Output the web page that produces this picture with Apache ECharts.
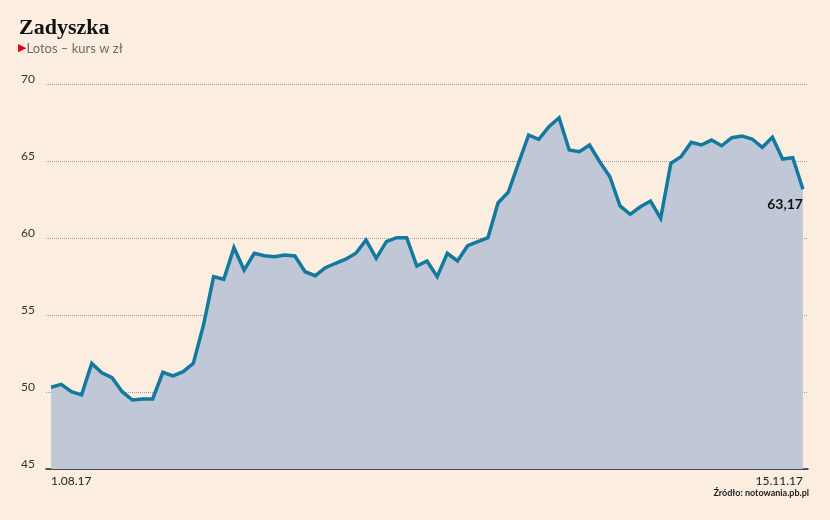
<!DOCTYPE html>
<html>
<head>
<meta charset="utf-8">
<script src="https://cdn.jsdelivr.net/npm/echarts@6/dist/echarts.min.js"></script>
<style>
html,body{margin:0;padding:0;background:#fbeee1;}
#c{width:830px;height:520px;}
</style>
</head>
<body>
<div id="c"></div>
<script>
var titleText = 'Zadyszka';
var subtitleText = 'Lotos – kurs w zł';
var sourceText = 'Źródło: notowania.pb.pl';

var dates = [
 '1.08.17','2.08.17','3.08.17','4.08.17','7.08.17','8.08.17','9.08.17','10.08.17','11.08.17',
 '14.08.17','16.08.17','17.08.17','18.08.17','21.08.17','22.08.17','23.08.17','24.08.17','25.08.17',
 '28.08.17','29.08.17','30.08.17','31.08.17',
 '1.09.17','4.09.17','5.09.17','6.09.17','7.09.17','8.09.17','11.09.17','12.09.17','13.09.17','14.09.17','15.09.17',
 '18.09.17','19.09.17','20.09.17','21.09.17','22.09.17','25.09.17','26.09.17','27.09.17','28.09.17','29.09.17',
 '2.10.17','3.10.17','4.10.17','5.10.17','6.10.17','9.10.17','10.10.17','11.10.17','12.10.17','13.10.17',
 '16.10.17','17.10.17','18.10.17','19.10.17','20.10.17','23.10.17','24.10.17','25.10.17','26.10.17','27.10.17',
 '30.10.17','31.10.17',
 '2.11.17','3.11.17','6.11.17','7.11.17','8.11.17','9.11.17','10.11.17','13.11.17','14.11.17','15.11.17'
];

var prices = [
 50.31,50.50,50.02,49.81,51.86,51.25,50.93,50.02,49.48,49.55,49.55,51.28,51.04,51.32,51.86,54.35,57.49,57.32,
 59.37,57.92,59.01,58.85,58.79,58.90,58.83,57.81,57.55,58.07,58.36,58.62,59.01,59.87,58.68,59.76,60.02,60.02,
 58.18,58.51,57.49,59.01,58.51,59.50,59.76,60.02,62.29,62.97,64.85,66.69,66.41,67.23,67.81,65.71,65.60,66.04,
 64.95,63.98,62.08,61.54,62.03,62.40,61.28,64.85,65.28,66.21,66.04,66.36,65.99,66.51,66.62,66.43,65.89,66.54,
 65.13,65.21,63.17
];

var yMin = 45, yMax = 70, yStep = 5;

var seriesData = prices.map(function (v, i) {
  if (i === prices.length - 1) {
    return {
      value: v,
      symbol: 'circle',
      symbolSize: 0.1,
      label: {
        show: true,
        position: 'bottom',
        align: 'right',
        distance: 8,
        formatter: function (p) { return p.value.toFixed(2).replace('.', ','); },
        fontFamily: 'Lato',
        fontWeight: 'bold',
        fontSize: 14,
        color: '#111'
      }
    };
  }
  return {value: v, symbol: 'none'};
});

var lblFont = {fontFamily: 'Lato', fontSize: 12, color: '#222', fontWeight: 'normal'};

var chart = echarts.init(document.getElementById('c'), null, {renderer: 'canvas'});
chart.setOption({
  backgroundColor: '#fbeee1',
  animation: false,
  title: [{
    text: titleText,
    left: 19,
    top: 17,
    padding: 0,
    textStyle: {fontFamily: 'Liberation Serif', fontWeight: 'bold', fontSize: 22, color: '#111'}
  }, {
    text: '{t|▶}{s|' + subtitleText + '}',
    left: 18,
    top: 42,
    padding: 0,
    textStyle: {
      rich: {
        t: {fontFamily: 'DejaVu Sans', fontSize: 11, color: '#e2001a', fontWeight: 'normal'},
        s: {fontFamily: 'Lato', fontSize: 13, color: '#6b6b6b', fontWeight: 'normal'}
      }
    }
  }, {
    text: sourceText,
    right: 21,
    top: 489,
    padding: 0,
    textStyle: {fontFamily: 'Lato', fontSize: 9, fontWeight: 'bold', color: '#222'}
  }],
  grid: {left: 46, right: 22, top: 84, bottom: 51, containLabel: false, outerBoundsMode: 'none'},
  xAxis: {
    type: 'category',
    data: dates,
    boundaryGap: true,
    axisLine: {show: true, lineStyle: {color: '#222', width: 1.5}},
    axisTick: {show: false},
    splitLine: {show: false},
    axisLabel: {
      interval: function (i) { return i === 0 || i === dates.length - 1; },
      margin: 6,
      formatter: function (v, i) {
        if (i === 0) return '{h|' + v + '}{v|' + v + '}';
        return '{v|' + v + '}{h|' + v + '}';
      },
      rich: {
        v: lblFont,
        h: {fontFamily: 'Lato', fontSize: 12, color: 'rgba(0,0,0,0)', fontWeight: 'normal'}
      }
    }
  },
  yAxis: {
    type: 'value',
    min: yMin,
    max: yMax,
    interval: yStep,
    axisLine: {show: false},
    axisTick: {show: false},
    splitLine: {show: true, lineStyle: {color: '#9f9f9f', type: [1, 1], width: 1}},
    axisLabel: {
      fontFamily: 'Lato',
      fontSize: 12,
      color: '#333',
      align: 'left',
      verticalAlign: 'bottom',
      lineHeight: 10,
      margin: 25
    }
  },
  series: [{
    type: 'line',
    data: seriesData,
    symbol: 'none',
    showSymbol: true,
    showAllSymbol: true,
    lineStyle: {color: '#137a9f', width: 3.5, join: 'miter'},
    areaStyle: {color: '#c0c7d6', opacity: 1, origin: 'start'},
    itemStyle: {color: '#137a9f'},
    labelLayout: {hideOverlap: false},
    z: 3
  }]
});
</script>
</body>
</html>
